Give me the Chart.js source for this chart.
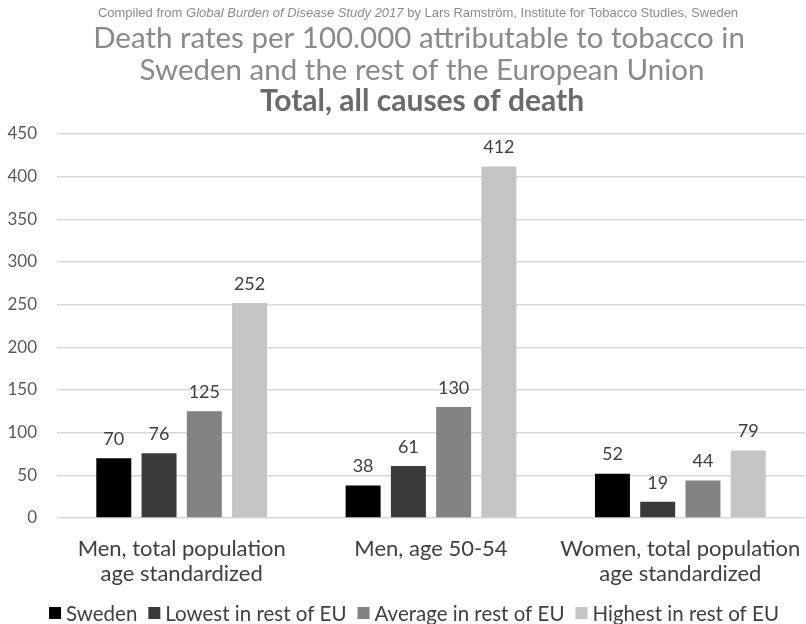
<!DOCTYPE html>
<html>
<head>
<meta charset="utf-8">
<script src="https://cdn.jsdelivr.net/npm/chart.js@4.4.1/dist/chart.umd.min.js"></script>
<style>
  html, body { margin: 0; padding: 0; background: #ffffff; }
  #wrap { width: 806px; height: 624px; }
</style>
</head>
<body>
<div id="wrap"><canvas id="c" width="806" height="624"></canvas></div>
<script>
// Groups on the x axis
const categories = [
  ["Men, total population", "age standardized"],
  "Men, age 50-54",
  ["Women, total population", "age standardized"]
];
// Series names
const seriesNames = ["Sweden", "Lowest in rest of EU", "Average in rest of EU", "Highest in rest of EU"];
// Deaths per 100.000 attributable to tobacco
const sweden  = [70, 38, 52];
const lowest  = [76, 61, 19];
const average = [125, 130, 44];
const highest = [252, 412, 79];
// Value axis
const yMin = 0, yMax = 450, yStep = 50;

const seriesColors = ["#000000", "#3a3a3a", "#838383", "#c5c5c5"];
const FONT = "Lato, 'Open Sans', sans-serif";

// Source line and titles above the plot
const headerPlugin = {
  id: "header",
  afterDraw(chart) {
    const ctx = chart.ctx;
    ctx.save();
    ctx.textBaseline = "middle";
    // source line with italic study name
    const base = "13px 'Liberation Sans Narrow', 'Liberation Sans', Arial, sans-serif";
    const parts = [
      { t: "Compiled from ", f: base },
      { t: "Global Burden of Disease Study 2017", f: "italic " + base },
      { t: " by Lars Ramström, Institute for Tobacco Studies, Sweden", f: base }
    ];
    let total = 0;
    parts.forEach(p => { ctx.font = p.f; p.w = ctx.measureText(p.t).width; total += p.w; });
    let x = 418 - total / 2;
    ctx.fillStyle = "#8c8c8c";
    ctx.textAlign = "left";
    parts.forEach(p => { ctx.font = p.f; ctx.fillText(p.t, x, 13); x += p.w; });

    ctx.textAlign = "center";
    ctx.fillStyle = "#8a8a8a";
    ctx.font = "29.5px " + FONT;
    ctx.fillText("Death rates per 100.000 attributable to tobacco in", 419, 38);
    ctx.fillText("Sweden and the rest of the European Union", 422, 70);
    ctx.fillStyle = "#6a6a6a";
    ctx.font = "bold 30px " + FONT;
    ctx.fillText("Total, all causes of death", 422, 101);
    ctx.restore();
  }
};

// Value above each bar
const valueLabels = {
  id: "valueLabels",
  afterDatasetsDraw(chart) {
    const ctx = chart.ctx;
    ctx.save();
    ctx.font = "18px " + FONT;
    ctx.fillStyle = "#404040";
    ctx.textAlign = "center";
    ctx.textBaseline = "middle";
    chart.data.datasets.forEach((ds, i) => {
      chart.getDatasetMeta(i).data.forEach((bar, j) => {
        ctx.fillText(String(ds.data[j]), bar.x, bar.y - 19);
      });
    });
    ctx.restore();
  }
};

// Legend row under the axis labels
const bottomLegend = {
  id: "bottomLegend",
  afterDraw(chart) {
    const ctx = chart.ctx;
    ctx.save();
    ctx.font = "20.5px " + FONT;
    ctx.textBaseline = "middle";
    ctx.textAlign = "left";
    const box = 12, gapText = 5, gapItem = 11, cy = 613;
    const items = chart.data.datasets.map(ds => ({ label: ds.label, color: ds.backgroundColor, w: ctx.measureText(ds.label).width }));
    let total = 0;
    items.forEach((it, i) => { total += box + gapText + it.w + (i ? gapItem : 0); });
    let x = 414 - total / 2;
    items.forEach(it => {
      ctx.fillStyle = it.color;
      ctx.fillRect(x, cy - box / 2, box, box);
      x += box + gapText;
      ctx.fillStyle = "#404040";
      ctx.fillText(it.label, x, cy + 1);
      x += it.w + gapItem;
    });
    ctx.restore();
  }
};

const values = [sweden, lowest, average, highest];

new Chart(document.getElementById("c"), {
  type: "bar",
  data: {
    labels: categories,
    datasets: seriesNames.map((name, i) => ({
      label: name,
      data: values[i],
      backgroundColor: seriesColors[i],
      borderWidth: 0,
      categoryPercentage: 0.726,
      barPercentage: 0.773
    }))
  },
  options: {
    responsive: false,
    animation: false,
    layout: { padding: { top: 134, right: 1, left: 0, bottom: 36 } },
    plugins: {
      legend: { display: false },
      title: { display: false },
      tooltip: { enabled: false }
    },
    scales: {
      x: {
        grid: { display: false },
        border: { display: false },
        afterFit(s) { s.height = 70; s.paddingLeft = 0; s.paddingRight = 0; },
        ticks: {
          color: "#404040",
          padding: 10,
          maxRotation: 0,
          autoSkip: false,
          font: { family: FONT, size: 22, lineHeight: 1.14 }
        }
      },
      y: {
        min: yMin,
        max: yMax,
        afterFit(s) { s.width = 57; },
        border: { display: false },
        grid: { color: "#d9d9d9", lineWidth: 1.5, drawTicks: false },
        ticks: {
          stepSize: yStep,
          color: "#595959",
          padding: 20,
          font: { family: FONT, size: 17 }
        }
      }
    }
  },
  plugins: [headerPlugin, valueLabels, bottomLegend]
});
</script>
</body>
</html>
